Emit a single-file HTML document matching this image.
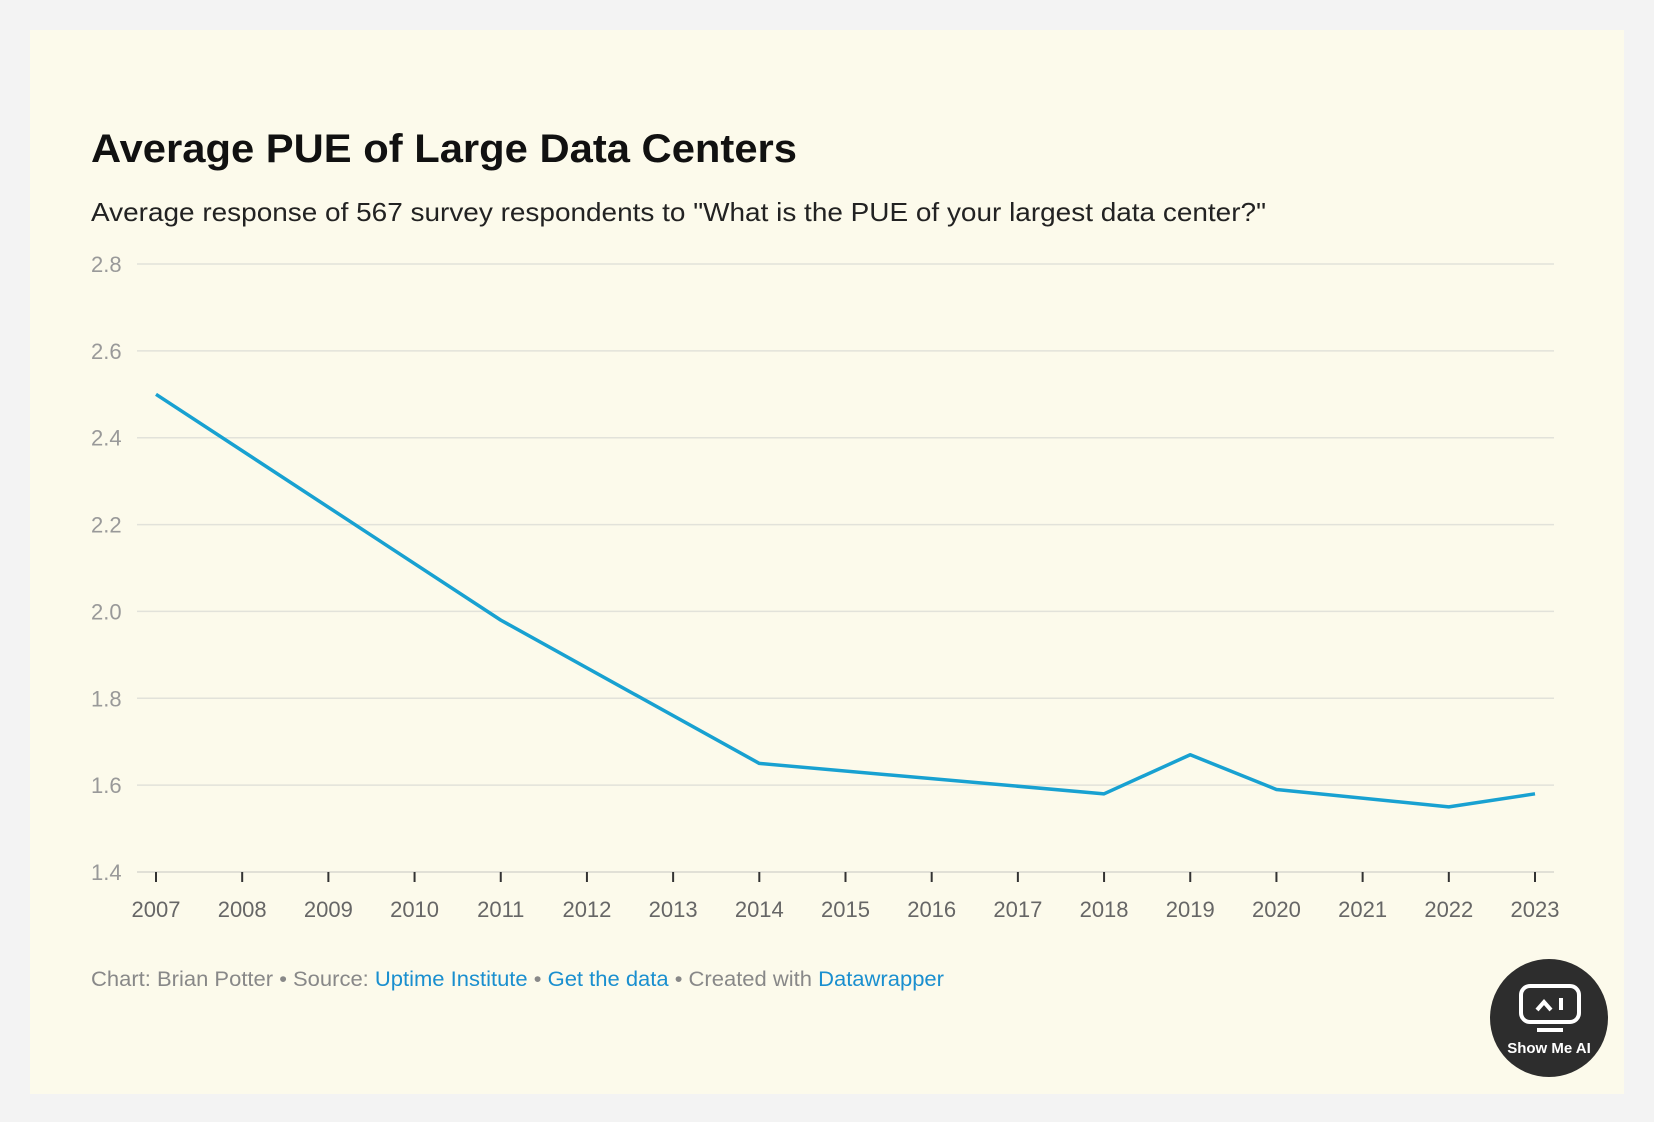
<!DOCTYPE html>
<html><head><meta charset="utf-8"><style>
html,body{margin:0;padding:0;background:#f3f3f3;}
body{width:1654px;height:1122px;position:relative;overflow:hidden;font-family:"Liberation Sans",sans-serif;}
#card{position:absolute;left:30px;top:30px;width:1594px;height:1064px;background:#fcfaeb;}
</style></head><body>
<div id="card"></div>
<svg id="chart" width="1654" height="1122" style="position:absolute;left:0;top:0">
<text x="91" y="162" font-size="40" font-weight="bold" fill="#111" font-family="Liberation Sans,sans-serif" textLength="706" lengthAdjust="spacingAndGlyphs">Average PUE of Large Data Centers</text>
<text x="91" y="221" font-size="26" fill="#222" font-family="Liberation Sans,sans-serif" textLength="1175" lengthAdjust="spacingAndGlyphs">Average response of 567 survey respondents to "What is the PUE of your largest data center?"</text>
<g id="grid"></g><g id="xaxis"></g><g id="series"></g>
<text x="91" y="986" font-size="21" fill="#888" font-family="Liberation Sans,sans-serif" textLength="853" lengthAdjust="spacingAndGlyphs">Chart: Brian Potter • Source: <tspan fill="#1a8fcf">Uptime Institute</tspan> • <tspan fill="#1a8fcf">Get the data</tspan> • Created with <tspan fill="#1a8fcf">Datawrapper</tspan></text>
<g>
<circle cx="1549" cy="1018" r="59" fill="#2d2d2d"/>
<rect x="1521" y="986" width="58" height="36" rx="9" fill="none" stroke="#fff" stroke-width="4"/>
<path d="M1537 1010 l7 -8 l7 8" fill="none" stroke="#fff" stroke-width="4"/>
<line x1="1561" y1="998" x2="1561" y2="1010" stroke="#fff" stroke-width="4"/>
<line x1="1537" y1="1030" x2="1563" y2="1030" stroke="#fff" stroke-width="4"/>
<text x="1549" y="1053" font-size="15" font-weight="bold" fill="#fff" text-anchor="middle" font-family="Liberation Sans,sans-serif">Show Me AI</text>
</g>
</svg>
<script>
const years=[2007,2011,2014,2018,2019,2020,2022,2023];
const pue=[2.5,1.98,1.65,1.58,1.67,1.59,1.55,1.58];
const yTicks=[1.4,1.6,1.8,2.0,2.2,2.4,2.6,2.8];
const xTicks=[2007,2008,2009,2010,2011,2012,2013,2014,2015,2016,2017,2018,2019,2020,2021,2022,2023];
const NS="http://www.w3.org/2000/svg";
const x=v=>156+(v-2007)*(1535-156)/16;
const y=v=>872+(v-1.4)*(264-872)/1.4;
function mk(t,a,p){const e=document.createElementNS(NS,t);for(const k in a)e.setAttribute(k,a[k]);p.appendChild(e);return e;}
const grid=document.getElementById('grid');
yTicks.forEach(t=>{
 if(t>1.4){const l=mk('line',{x1:137,x2:1554,y1:y(t),y2:y(t),stroke:'#e2e2da','stroke-width':1.5},grid);
 
 }
 const tx=mk('text',{x:91,y:y(t)+8,'font-size':22,fill:'#999','font-family':'Liberation Sans,sans-serif'},grid);
 tx.textContent=t.toFixed(1);
 
 
});
const xa=document.getElementById('xaxis');
const base=mk('line',{x1:137,x2:1554,y1:872,y2:872,stroke:'#d8d8d0','stroke-width':1.5},xa);


xTicks.forEach(t=>{
 const tk=mk('line',{x1:x(t),x2:x(t),y1:872,y2:882,stroke:'#333','stroke-width':2},xa);
 
 
 const tx=mk('text',{x:x(t),y:917,'font-size':22,fill:'#666','text-anchor':'middle','font-family':'Liberation Sans,sans-serif'},xa);
 tx.textContent=t;
 
 
});
const line=mk('polyline',{points:years.map((d,i)=>x(d)+','+y(pue[i])).join(' '),fill:'none',stroke:'#18a1d1','stroke-width':3.5,'stroke-linejoin':'round'},document.getElementById('series'));


</script>
</body></html>
